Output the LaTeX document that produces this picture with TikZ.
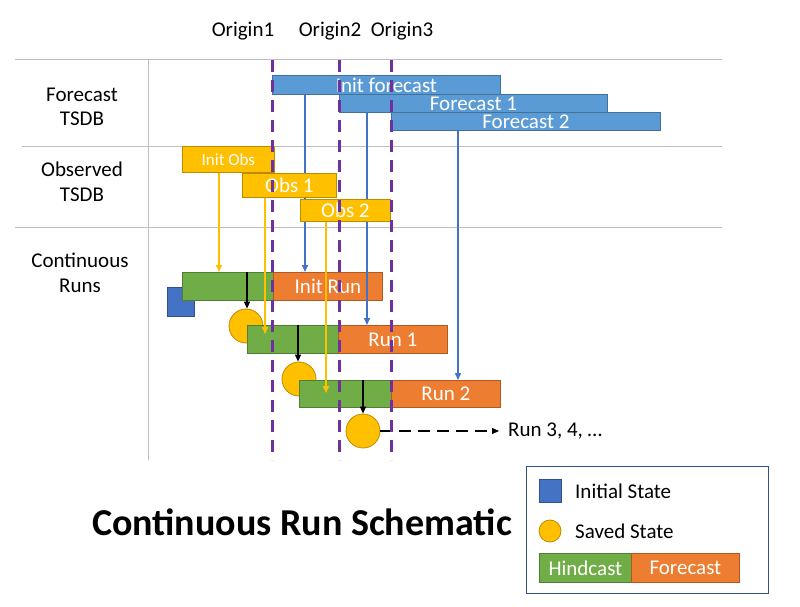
\documentclass[tikz,border=0pt]{standalone}
\usepackage{fontspec}
\setmainfont{Carlito}
\usetikzlibrary{arrows.meta}
\definecolor{fblue}{HTML}{5B9BD5}
\definecolor{fblueb}{HTML}{41719C}
\definecolor{lblue}{HTML}{4472C4}
\definecolor{sqblue}{HTML}{2F528F}
\definecolor{orng}{HTML}{ED7D31}
\definecolor{orngb}{HTML}{AE5A21}
\definecolor{grn}{HTML}{70AD47}
\definecolor{grnb}{HTML}{507E32}
\definecolor{yel}{HTML}{FFC000}
\definecolor{yelb}{HTML}{BC8C00}
\definecolor{purp}{HTML}{7030A0}
\definecolor{gridg}{HTML}{BFBFBF}
\tikzset{
  fs/.style={font=\fontsize{#1}{24.5}\selectfont},
  barbox/.style={draw, inner sep=0pt, anchor=north west, text=white, line width=0.8pt},
  fbar/.style={barbox, fill=fblue, draw=fblueb, fs=21},
  obar/.style={barbox, fill=yel, draw=yelb},
  hbar/.style={barbox, fill=grn, draw=grnb},
  rbar/.style={barbox, fill=orng, draw=orngb, fs=21},
  savedst/.style={circle, fill=yel, draw=yelb, inner sep=0pt, minimum size=34pt, line width=0.8pt},
  initst/.style={fill=lblue, draw=sqblue, inner sep=0pt, anchor=north west, line width=0.8pt},
  gridline/.style={draw=gridg, line width=1pt},
  pdash/.style={draw=purp, line width=3pt, dash pattern=on 12pt off 8pt},
  tip/.style={-{Triangle[length=7pt,width=6pt]}},
  bline/.style={draw=lblue, line width=1.5pt, tip},
  yline/.style={draw=yel, line width=1.5pt, tip},
  kline/.style={draw=black, line width=1.2pt, tip},
  lbl/.style={fs=21, align=center, inner sep=0pt}
}
\begin{document}
\begin{tikzpicture}[x=1pt,y=-1pt]
\useasboundingbox[fill=white] (0,0) rectangle (800,607);
% grid
\draw[gridline] (15,60) -- (722,60);
\draw[gridline] (22,146) -- (722,146);
\draw[gridline] (15,227) -- (722,227);
\draw[gridline] (148,60) -- (148,460);
% labels
\node[lbl] (o1lab) at (243,31) {Origin1};
\node[lbl] (o2lab) at (330,31) {Origin2};
\node[lbl] (o3lab) at (402,31) {Origin3};
\node[lbl] (rowf) at (82,107) {Forecast\\TSDB};
\node[lbl] (rowo) at (82,182) {Observed\\TSDB};
\node[lbl] (rowc) at (80,273) {Continuous\\Runs};
% forecast bars
\node[fbar, minimum width=228pt, minimum height=19pt] (ifc) at (272,75) {Init forecast};
\node[fbar, minimum width=268pt, minimum height=18pt] (fc1) at (339,94) {Forecast 1};
\node[fbar, minimum width=269pt, minimum height=18pt] (fc2) at (391,112) {Forecast 2};
% initial state and saved states
\node[initst, minimum width=27pt, minimum height=29pt] (ist) at (167,287) {};
\node[savedst] (c1) at (246,326) {};
\node[savedst] (c2) at (299,379) {};
\node[savedst] (c3) at (363,431) {};
% runs
\node[hbar, minimum width=91pt, minimum height=28pt] (g0) at (182,272) {};
\node[rbar, minimum width=109pt, minimum height=28pt] (r0) at (273,272) {Init Run};
\node[hbar, minimum width=91pt, minimum height=28pt] (g1) at (247,325) {};
\node[rbar, minimum width=109pt, minimum height=28pt] (r1) at (338,325) {Run 1};
\node[hbar, minimum width=92pt, minimum height=27pt] (g2) at (299,380) {};
\node[rbar, minimum width=109pt, minimum height=27pt] (r2) at (391,380) {Run 2};
% blue connectors
\draw[bline] ([xshift=33pt]ifc.south west) -- ([xshift=33pt]ifc.south west |- r0.north);
\draw[bline] ([xshift=28pt]fc1.south west) -- ([xshift=28pt]fc1.south west |- r1.north);
\draw[bline] ([xshift=67pt]fc2.south west) -- ([xshift=67pt]fc2.south west |- r2.north);
% observed bars
\node[obar, minimum width=92pt, minimum height=26pt, fs=17] (iob) at (182,146) {Init Obs};
\node[obar, minimum width=94pt, minimum height=24pt, fs=21] (ob1) at (242,173) {Obs 1};
\node[obar, minimum width=90pt, minimum height=22pt, fs=21] (ob2) at (300,199) {Obs 2};
% yellow connectors
\draw[yline] ([xshift=37pt]iob.south west) -- ([xshift=37pt]iob.south west |- g0.north);
\draw[yline] ([xshift=23pt]ob1.south west) -- ([xshift=23pt,yshift=-9pt]ob1.south west |- g1.north);
\draw[yline] ([xshift=26pt]ob2.south west) -- ([xshift=26pt,yshift=-13pt]ob2.south west |- g2.north);
% black connectors
\draw[kline] ([xshift=65pt]g0.north west) -- ([xshift=65pt]g0.north west |- c1.north);
\draw[kline] ([xshift=51pt]g1.north west) -- ([xshift=51pt]g1.north west |- c2.north);
\draw[kline] ([xshift=64pt]g2.north west) -- ([xshift=64pt]g2.north west |- c3.north);
% next runs
\node[lbl, anchor=west] (nxt) at (508,431) {Run 3, 4, …};
\draw[line width=1.2pt, dash pattern=on 12pt off 7pt, tip, shorten >=9pt] (c3.east) -- (nxt.west);
% origins
\draw[pdash] (272,60) -- (272,460);
\draw[pdash] (339,60) -- (339,460);
\draw[pdash] (391,60) -- (391,460);
% title
\node[font=\bfseries\fontsize{38}{42}\selectfont, inner sep=0pt] (title) at (302,522) {Continuous Run Schematic};
% legend
\node[draw=sqblue, line width=1pt, minimum width=242pt, minimum height=127pt, anchor=north west, inner sep=0pt] (leg) at (526,466) {};
\node[initst, minimum width=22pt, minimum height=23pt] (lsq) at (539,479) {};
\node[lbl, anchor=west] (lsqt) at (575,491) {Initial State};
\node[savedst, minimum size=22pt] (lci) at (550,531) {};
\node[lbl, anchor=west] (lcit) at (575,531) {Saved State};
\node[hbar, minimum width=92pt, minimum height=29pt, fs=21] (lhc) at (539,553) {Hindcast};
\node[rbar, minimum width=108pt, minimum height=29pt] (lfc) at (631,553) {Forecast};
\end{tikzpicture}
\end{document}
